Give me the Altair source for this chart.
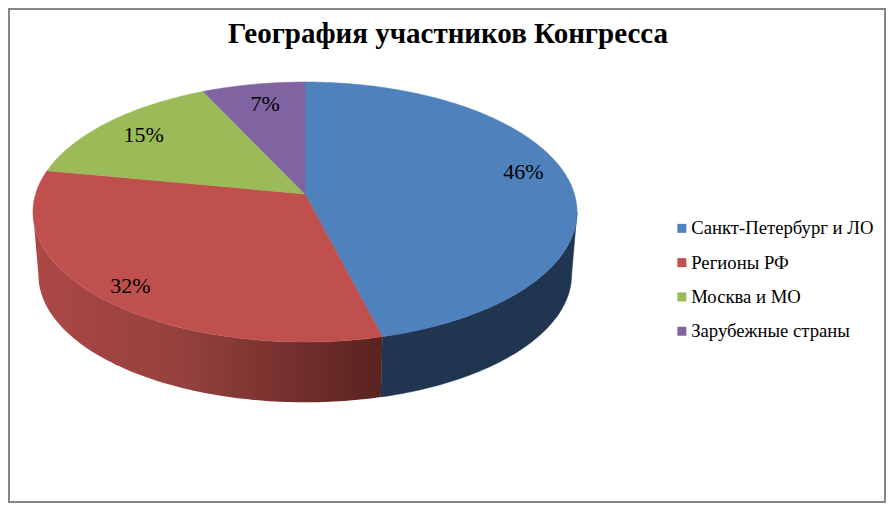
import math
import altair as alt
import pandas as pd

categories = ["Санкт-Петербург и ЛО", "Регионы РФ", "Москва и МО", "Зарубежные страны"]
shares = [46, 32, 15, 7]
colors = ["#4F81BD", "#C0504D", "#9BBB59", "#8064A2"]
label_frac = [0.47, 0.49, 0.50, 0.53]
label_radius = [0.85, 0.88, 0.81, 0.80]

FONT = "Liberation Serif"
W, H = 878, 495
K = 0.1385
TANGENT_R, TANGENT_L = 98.0, 262.0


def project(t_deg, rho=1.0, cy=194.0, a=269.4, b=127.5):
    t = math.radians(t_deg)
    u, v = rho * math.sin(t), -rho * math.cos(t)
    w = 1 - K * v
    return 305 + a * u / w, cy + b * v / w


def top(t, rho=1.0):
    return project(t, rho)


def bottom(t):
    return project(t, 1.0, 257.2, 264.0, 125.0)


def arc_points(t0, t1):
    n = max(2, int(abs(t1 - t0)) + 1)
    return [t0 + (t1 - t0) * i / (n - 1) for i in range(n)]


total = sum(shares)
edges = [0.0]
for s in shares:
    edges.append(edges[-1] + s / total * 360)

# top face wedges
rows = []
for name, t0, t1 in zip(categories, edges[:-1], edges[1:]):
    pts = [(305.0, 194.0)] + [top(t) for t in arc_points(t0, t1)] + [(305.0, 194.0)]
    for i, (x, y) in enumerate(pts):
        rows.append({"cat": name, "i": i, "x": x, "y": y})
faces = pd.DataFrame(rows)


# side walls
def wall(t0, t1):
    ts = arc_points(t0, t1)
    pts = [top(t) for t in ts] + [bottom(t) for t in reversed(ts)]
    pts.append(pts[0])
    return pd.DataFrame([{"i": i, "x": x, "y": y} for i, (x, y) in enumerate(pts)])


xs = alt.Scale(domain=[8, 8 + W], range=[0, W])
ys = alt.Scale(domain=[8, 8 + H], range=[0, H])
X = alt.X("x:Q", scale=xs, axis=None)
Y = alt.Y("y:Q", scale=ys, axis=None)

frame = alt.Chart(pd.DataFrame({"a": [0]})).mark_rect(
    fillOpacity=0, stroke="#868686", strokeWidth=2
).encode(x=alt.value(1), x2=alt.value(W - 1), y=alt.value(1), y2=alt.value(H - 1))

blue_wall = alt.Chart(wall(TANGENT_R, edges[1])).mark_line(
    interpolate="linear", fill="#1F3550", stroke="#1F3550", strokeWidth=0.5
).encode(x=X, y=Y, order="i:Q")

red_grad = alt.Gradient(
    gradient="linear", x1=0, x2=1, y1=0, y2=0,
    stops=[
        alt.GradientStop(offset=0, color="#AC4845"),
        alt.GradientStop(offset=0.45, color="#93403C"),
        alt.GradientStop(offset=1, color="#592220"),
    ],
)
red_wall = alt.Chart(wall(edges[1], TANGENT_L)).mark_line(
    interpolate="linear", fill=red_grad, strokeWidth=0
).encode(x=X, y=Y, order="i:Q")

color_scale = alt.Scale(domain=categories, range=colors)

top_faces = alt.Chart(faces).mark_line(interpolate="linear", strokeWidth=0.5).encode(
    x=X, y=Y, order="i:Q",
    detail="cat:N",
    fill=alt.Fill(
        "cat:N", scale=color_scale, sort=categories,
        legend=alt.Legend(
            title=None, orient="none", legendX=664.5, legendY=211,
            symbolType="square", symbolSize=81, symbolStrokeWidth=0,
            labelFont=FONT, labelFontSize=18.7, labelColor="black", labelLimit=260,
            rowPadding=14.3, labelOffset=0,
        ),
    ),
    stroke=alt.Stroke("cat:N", scale=color_scale, sort=categories, legend=None),
)

lab_rows = []
for name, s, t0, t1, f, r in zip(categories, shares, edges[:-1], edges[1:], label_frac, label_radius):
    x, y = top(t0 + (t1 - t0) * f, r)
    lab_rows.append({"x": x, "y": y, "label": f"{s}%"})
labels = alt.Chart(pd.DataFrame(lab_rows)).mark_text(
    font=FONT, fontSize=22, color="black", align="center", baseline="middle"
).encode(x=X, y=Y, text="label:N")

title = alt.Chart(pd.DataFrame({"t": ["География участников Конгресса"]})).mark_text(
    font=FONT, fontSize=29, fontWeight="bold", color="black", align="center", baseline="middle"
).encode(x=alt.value(440), y=alt.value(26), text="t:N")

chart = (
    alt.layer(frame, blue_wall, red_wall, top_faces, labels, title)
    .resolve_scale(x="shared", y="shared")
    .properties(width=W, height=H, padding=0, background="white")
    .configure_view(stroke=None)
)

chart.save("out.html", embed_options={"renderer": "svg", "actions": False})
